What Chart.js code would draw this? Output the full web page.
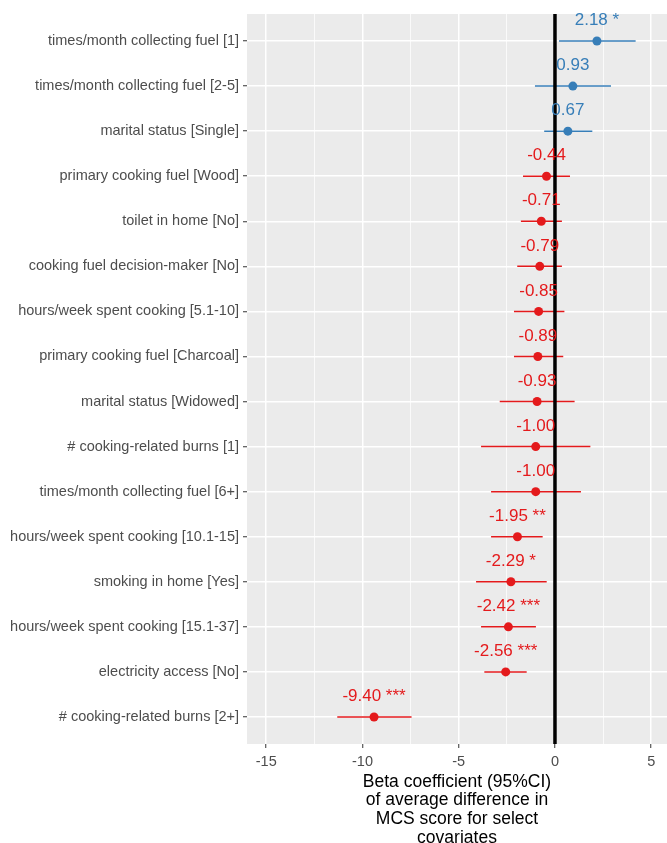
<!DOCTYPE html>
<html>
<head>
<meta charset="utf-8">
<script src="https://cdn.jsdelivr.net/npm/chart.js@4/dist/chart.umd.min.js"></script>
<style>
  html, body { margin: 0; padding: 0; background: #ffffff; }
  #wrap { width: 667px; height: 843px; position: relative; }
</style>
</head>
<body>
<div id="wrap"><canvas id="c" width="667" height="843"></canvas></div>
<script>
// Covariates, top to bottom
const CATEGORIES = [
  "times/month collecting fuel [1]",
  "times/month collecting fuel [2-5]",
  "marital status [Single]",
  "primary cooking fuel [Wood]",
  "toilet in home [No]",
  "cooking fuel decision-maker [No]",
  "hours/week spent cooking [5.1-10]",
  "primary cooking fuel [Charcoal]",
  "marital status [Widowed]",
  "# cooking-related burns [1]",
  "times/month collecting fuel [6+]",
  "hours/week spent cooking [10.1-15]",
  "smoking in home [Yes]",
  "hours/week spent cooking [15.1-37]",
  "electricity access [No]",
  "# cooking-related burns [2+]"
];
// Beta coefficients and 95% CI bounds
const ESTIMATES = [2.18, 0.93, 0.67, -0.44, -0.71, -0.79, -0.85, -0.89, -0.93, -1.00, -1.00, -1.95, -2.29, -2.42, -2.56, -9.40];
const CI_LOW    = [0.21, -1.04, -0.56, -1.66, -1.77, -1.96, -2.13, -2.13, -2.87, -3.84, -3.32, -3.32, -4.10, -3.84, -3.67, -11.31];
const CI_HIGH   = [4.19, 2.91, 1.94, 0.78, 0.36, 0.36, 0.49, 0.43, 1.02, 1.84, 1.35, -0.64, -0.43, -0.99, -1.47, -7.45];
const STARS     = ["*", "", "", "", "", "", "", "", "", "", "", "**", "*", "***", "***", "***"];
// x-axis ticks (major every 5, minor halfway)
const X_TICKS = [-15, -12.5, -10, -7.5, -5, -2.5, 0, 2.5, 5];
const X_TITLE = ["Beta coefficient (95%CI)", "of average difference in", "MCS score for select", "covariates"];

const POS_COLOR = "#377EB8";
const NEG_COLOR = "#E41A1C";
const FONT = "'Liberation Sans', Arial, sans-serif";
const colorFor = v => (v > 0 ? POS_COLOR : NEG_COLOR);

const points = ESTIMATES.map((v, i) => ({ x: v, y: i }));

const forestPlugin = {
  id: "forest",
  beforeDraw(chart) {
    const { ctx, chartArea: a } = chart;
    ctx.save();
    ctx.fillStyle = "#EBEBEB";
    ctx.fillRect(a.left, a.top, a.right - a.left, a.bottom - a.top);
    ctx.restore();
  },
  beforeDatasetsDraw(chart) {
    const { ctx, chartArea: a, scales: { x, y } } = chart;
    ctx.save();
    // confidence interval segments
    ctx.lineWidth = 1.5;
    ESTIMATES.forEach((v, i) => {
      const py = y.getPixelForValue(i);
      ctx.strokeStyle = colorFor(v);
      ctx.beginPath();
      ctx.moveTo(x.getPixelForValue(CI_LOW[i]), py);
      ctx.lineTo(x.getPixelForValue(CI_HIGH[i]), py);
      ctx.stroke();
    });
    // reference line at zero
    const x0 = x.getPixelForValue(0);
    ctx.strokeStyle = "#000000";
    ctx.lineWidth = 3.5;
    ctx.beginPath();
    ctx.moveTo(x0, a.top);
    ctx.lineTo(x0, a.bottom);
    ctx.stroke();
    ctx.restore();
  },
  afterDatasetsDraw(chart) {
    const { ctx, scales: { x, y } } = chart;
    ctx.save();
    ctx.font = "17px " + FONT;
    ctx.textAlign = "center";
    ctx.textBaseline = "middle";
    ESTIMATES.forEach((v, i) => {
      const label = v.toFixed(2) + (STARS[i] ? " " + STARS[i] : "");
      ctx.fillStyle = colorFor(v);
      ctx.fillText(label, x.getPixelForValue(v), y.getPixelForValue(i) - 20.5);
    });
    ctx.restore();
  }
};

new Chart(document.getElementById("c"), {
  type: "scatter",
  data: {
    datasets: [{
      data: points,
      pointRadius: 4.5,
      pointHoverRadius: 4.5,
      pointBorderWidth: 0,
      pointBackgroundColor: ESTIMATES.map(colorFor),
      pointBorderColor: ESTIMATES.map(colorFor)
    }]
  },
  options: {
    responsive: false,
    animation: false,
    devicePixelRatio: 1,
    layout: { autoPadding: false, padding: { top: 14, right: 0, left: 0, bottom: 0 } },
    plugins: { legend: { display: false }, tooltip: { enabled: false } },
    scales: {
      x: {
        type: "linear",
        min: -16.0,
        max: 5.82,
        afterBuildTicks: s => { s.ticks = X_TICKS.map(v => ({ value: v })); },
        afterFit: s => { s.height = 99; s.paddingLeft = 0; s.paddingRight = 0; },
        border: { display: false },
        grid: {
          color: "#FFFFFF",
          lineWidth: c => (c.tick && c.tick.value % 5 === 0 ? 1.5 : 0.75),
          tickColor: c => (c.tick && c.tick.value % 5 === 0 ? "#333333" : "rgba(0,0,0,0)"),
          tickLength: 4,
          tickWidth: 1
        },
        ticks: {
          padding: 5,
          maxRotation: 0,
          autoSkip: false,
          color: "#4D4D4D",
          font: { family: FONT, size: 14.5 },
          callback: v => (v % 5 === 0 ? String(v) : "")
        },
        title: {
          display: true,
          text: X_TITLE,
          color: "#000000",
          font: { family: FONT, size: 17.5, lineHeight: "18.7px" },
          padding: { top: 0, bottom: -4.3 }
        }
      },
      y: {
        type: "linear",
        reverse: true,
        min: -0.6,
        max: 15.6,
        afterBuildTicks: s => { s.ticks = CATEGORIES.map((_, i) => ({ value: i })); },
        afterFit: s => { s.width = 247; s.paddingTop = 0; s.paddingBottom = 0; },
        border: { display: false },
        grid: {
          color: "#FFFFFF",
          lineWidth: 1.5,
          tickColor: "#333333",
          tickLength: 4,
          tickWidth: 1
        },
        ticks: {
          padding: 4,
          autoSkip: false,
          color: "#4D4D4D",
          font: { family: FONT, size: 14.5 },
          callback: v => CATEGORIES[v] ?? ""
        }
      }
    }
  },
  plugins: [forestPlugin]
});
</script>
</body>
</html>
